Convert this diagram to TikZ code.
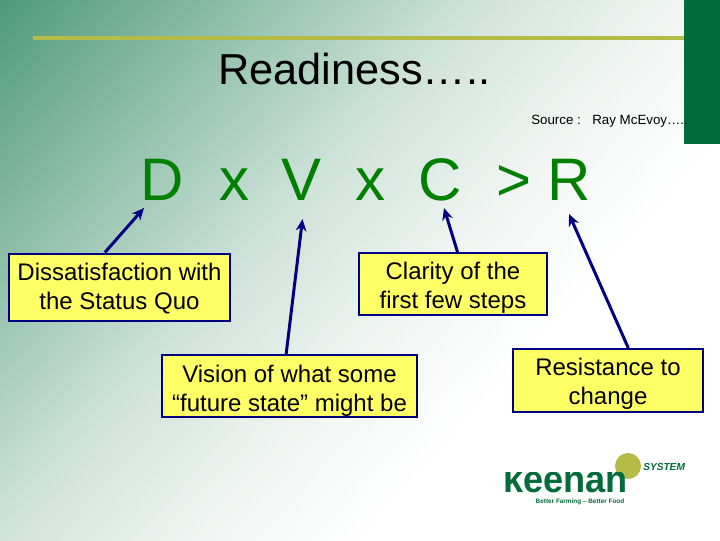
\documentclass[tikz,border=0pt]{standalone}
\usepackage{fontspec}
\setmainfont{Liberation Sans}
\usetikzlibrary{arrows.meta}
\definecolor{slidegreen}{RGB}{4,107,59}
\definecolor{slideolive}{RGB}{181,188,70}
\definecolor{formulagreen}{RGB}{0,128,0}
\definecolor{notefill}{RGB}{255,255,102}
\definecolor{notenavy}{RGB}{0,0,128}
\pgfdeclareverticalshading{slidefade}{100bp}{rgb(0bp)=(0.31,0.604,0.47); rgb(50bp)=(0.31,0.604,0.47); rgb(61.15bp)=(0.81,0.89,0.855); rgb(65.8bp)=(0.94,0.96,0.95); rgb(69.75bp)=(1,1,1); rgb(100bp)=(1,1,1)}
\newcommand{\notedrop}[1]{\rule{0pt}{#1pt}}
\tikzset{
  notebox/.style={draw=notenavy, fill=notefill, line width=1.5pt, inner sep=0pt, align=center,
    font=\fontsize{18pt}{21.75pt}\selectfont},
  callout/.style={draw=notenavy, line width=2.25pt, -{Stealth[length=9pt,width=8pt]}},
  bigletter/.style={anchor=base west, inner sep=0pt, text=formulagreen, font=\fontsize{45pt}{50pt}\selectfont}
}

\begin{document}
\begin{tikzpicture}[x=0.75pt,y=-0.75pt]
      \path[use as bounding box] (0,0) rectangle (720,540);
      \begin{scope}
        \clip (0,0) rectangle (720,540);
        \shade[shading=slidefade, shading angle=-132] (-800,-800) rectangle (800,800);
      \end{scope}

      \fill[slideolive] (33,35.5) rectangle (684,39.5);
      \fill[slidegreen] (684,0) rectangle (720,144);

      \node (title) [anchor=base west, inner sep=0pt, font=\fontsize{32.5pt}{36pt}\selectfont] at (218,84) {Readiness…..};
      \node (source) [anchor=base west, inner sep=0pt, font=\fontsize{10pt}{12pt}\selectfont] at (531,124) {Source :\ \ \hspace{3pt}Ray McEvoy…..};

      \foreach \x/\t in {140/D,219/x,281/V,355/x,418/C,496/>,547/R}
        \node (let\x) [bigletter] at (\x,200) {\t};

      \node (boxD) [notebox, minimum width=221*0.75pt, minimum height=67*0.75pt] at (119.5,287) {\notedrop{15.2}Dissatisfaction with\\the Status Quo};
      \node (boxV) [notebox, minimum width=255*0.75pt, minimum height=62*0.75pt] at (289.5,386) {\notedrop{19.5}Vision of what some\\“future state” might be};
      \node (boxC) [notebox, minimum width=188*0.75pt, minimum height=62*0.75pt] at (453,284) {\notedrop{18}Clarity of the\\first few steps};
      \node (boxR) [notebox, minimum width=190*0.75pt, minimum height=63*0.75pt] at (608,380.5) {\notedrop{18}Resistance to\\change};

      \coordinate (tipD) at (144,208);
      \coordinate (tipV) at (302.5,219);
      \coordinate (tipC) at (444,208);
      \coordinate (tipR) at (569,214);

      \draw[callout] (boxD.113) to (tipD);
      \draw[callout] (boxV.96.4) to (tipV);
      \draw[callout] (boxC.82.6) to (tipC);
      \draw[callout] (boxR.58.9) to (tipR);

      \fill[slideolive] (628,466) circle (13);
      \begin{scope}
        \clip (495,472) rectangle (640,500);
        \node (keenan) [anchor=base west, inner sep=0pt, text=slidegreen, xscale=0.95, font=\fontsize{28.5pt}{30pt}\selectfont\bfseries] at (503,492) {keenan};
      \end{scope}
      \node (system) [anchor=west, inner sep=0pt, text=slidegreen, font=\fontsize{7.6pt}{9pt}\selectfont\bfseries\itshape] at (643,467) {SYSTEM};
      \node (motto) [anchor=center, inner sep=0pt, text=slidegreen, font=\fontsize{4.8pt}{6pt}\selectfont\bfseries] at (580,502) {Better Farming – Better Food};
    \end{tikzpicture}
\end{document}
